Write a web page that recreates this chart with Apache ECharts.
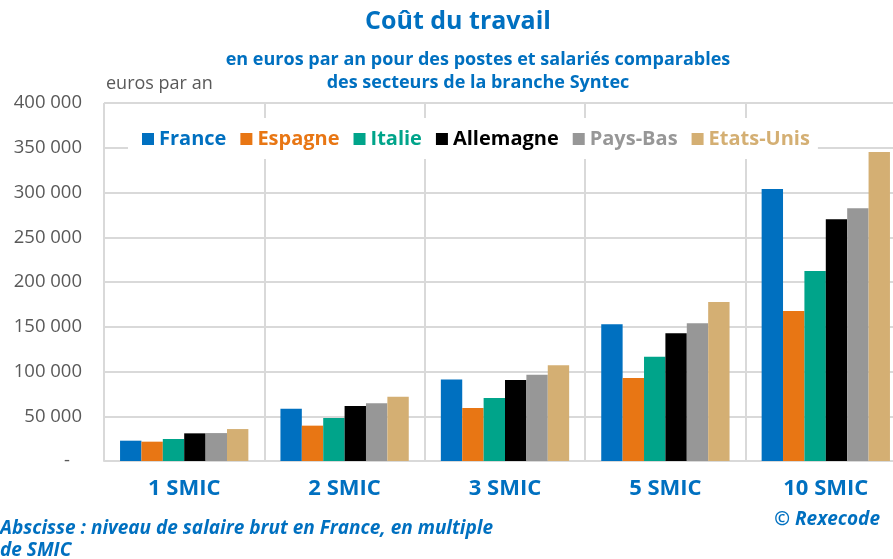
<!DOCTYPE html>
<html>
<head>
<meta charset="utf-8">
<script src="https://cdn.jsdelivr.net/npm/echarts@6/dist/echarts.min.js"></script>
<style>
  html, body { margin: 0; padding: 0; background: #fff; }
  #chart { width: 893px; height: 559px; }
</style>
</head>
<body>
<div id="chart"></div>
<script>
// niveaux de salaire
const categories = ['1 SMIC', '2 SMIC', '3 SMIC', '5 SMIC', '10 SMIC']

const france = [22700, 58500, 91200, 152700, 303900]
const espagne = [21600, 39500, 59200, 92700, 167600]
const italie = [24600, 48000, 70400, 116600, 212300]
const allemagne = [30900, 61400, 90500, 142600, 270000]
const paysBas = [31200, 64400, 96500, 153800, 282300]
const etatsUnis = [35700, 71800, 106900, 177600, 345300]

const seriesNames = ['France', 'Espagne', 'Italie', 'Allemagne', 'Pays-Bas', 'Etats-Unis']
const colors = ['#0070c0', '#e87614', '#00a48a', '#000000', '#979797', '#d4af73']

const blue = '#0070c0'
const font = 'Open Sans'

const chart = echarts.init(document.getElementById('chart'))

function fmt(v) {
  if (v === 0) return '{d|-}'
  return String(v).replace(/\B(?=(\d{3})+(?!\d))/g, ' ')
}

chart.setOption({
  animation: false,
  color: colors,
  textStyle: { fontFamily: font },
  grid: {
    left: 104,
    top: 103,
    width: 802,
    height: 358,
    outerBoundsMode: 'none'
  },
  title: [
    {
      text: 'Coût du travail',
      left: 453,
      top: 4,
      textAlign: 'center',
      textStyle: { color: blue, fontSize: 25, fontWeight: 'bold', fontFamily: font }
    },
    {
      text: 'en euros par an pour des postes et salariés comparables\ndes secteurs de la branche Syntec',
      left: 473,
      top: 43,
      textAlign: 'center',
      textStyle: { color: blue, fontSize: 18, fontWeight: 'bold', fontFamily: font, lineHeight: 23, align: 'center' }
    }
  ],
  graphic: [
    {
      type: 'text',
      left: 106,
      top: 75,
      style: { text: 'euros par an', fill: '#595959', font: '18px "Open Sans"' }
    },
    {
      type: 'text',
      left: 0,
      top: 518,
      style: {
        text: 'Abscisse : niveau de salaire brut en France, en multiple\nde SMIC',
        fill: blue,
        font: 'italic bold 19px "Open Sans"',
        lineHeight: 22
      }
    },
    {
      type: 'text',
      right: 13,
      top: 510,
      style: { text: '© Rexecode', fill: blue, font: 'italic bold 19px "Open Sans"' }
    }
  ],
  legend: {
    data: seriesNames,
    left: 128,
    top: 118,
    padding: [11, 8, 10, 14],
    backgroundColor: '#ffffff',
    icon: 'rect',
    itemWidth: 12,
    itemHeight: 12,
    itemGap: 14,
    textStyle: { fontSize: 20, fontWeight: 'bold', fontFamily: font, color: 'inherit' },
    z: 10
  },
  xAxis: {
    type: 'category',
    data: categories,
    axisLine: { lineStyle: { color: '#d9d9d9', width: 2 } },
    axisTick: { show: false },
    splitLine: { show: true, lineStyle: { color: '#d9d9d9', width: 2 } },
    axisLabel: { color: blue, fontSize: 22, fontWeight: 'bold', fontFamily: font, margin: 17 }
  },
  yAxis: {
    type: 'value',
    min: 0,
    max: 400000,
    interval: 50000,
    axisLine: { show: false },
    axisTick: { show: false },
    splitLine: { lineStyle: { color: '#d9d9d9', width: 2 } },
    axisLabel: {
      color: '#595959',
      fontSize: 18.5,
      fontFamily: font,
      margin: 22,
      formatter: fmt,
      rich: { d: { color: '#595959', fontSize: 18.5, fontFamily: font, padding: [0, 12, 0, 0] } }
    }
  },
  series: [france, espagne, italie, allemagne, paysBas, etatsUnis].map((data, i) => ({
    name: seriesNames[i],
    type: 'bar',
    data: data,
    barGap: '0%',
    barCategoryGap: '20%'
  }))
})
</script>
</body>
</html>
